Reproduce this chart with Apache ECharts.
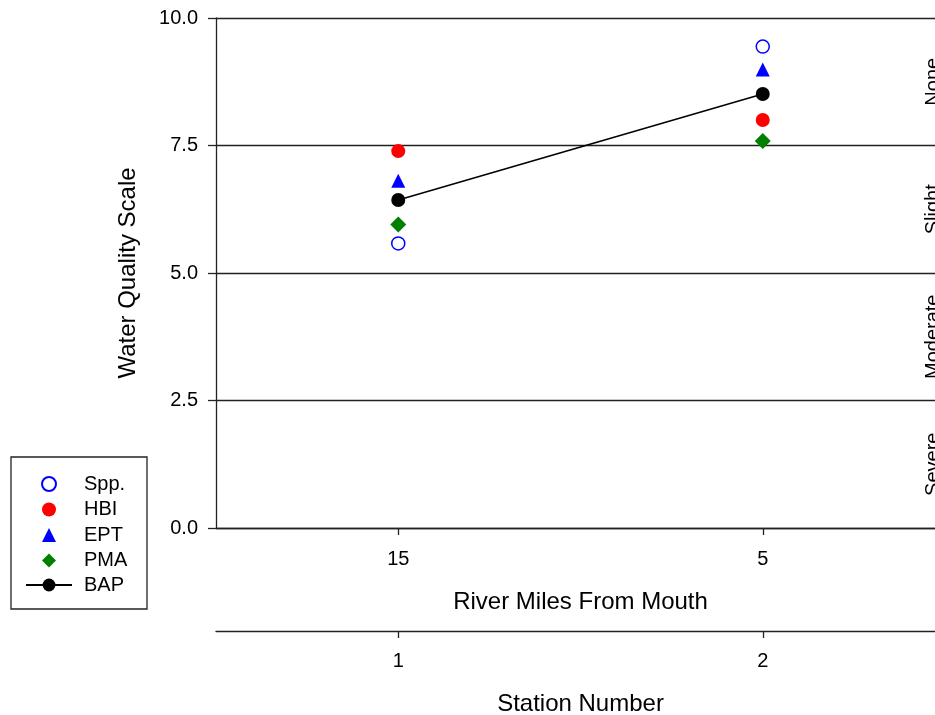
<!DOCTYPE html>
<html>
<head>
<meta charset="utf-8">
<script src="https://cdn.jsdelivr.net/npm/echarts@6/dist/echarts.min.js"></script>
<style>
html,body{margin:0;padding:0;background:#fff;}
#c{width:935px;height:715px;}
</style>
</head>
<body>
<div id="c"></div>
<script>
const riverMiles = ['15', '5'];
const stations = ['1', '2'];
const spp = [5.58, 9.44];
const hbi = [7.39, 8.0];
const ept = [6.81, 8.99];
const pma = [5.95, 7.59];
const bap = [6.43, 8.51];
const bandNames = ['Severe', 'Moderate', 'Slight', 'None'];
const bandCenters = [1.25, 3.75, 6.25, 8.75];
const xPositions = [0, 1];

const FONT = 'Liberation Sans, Arial, sans-serif';
const chart = echarts.init(document.getElementById('c'));
const axisLineStyle = { color: '#222', width: 1.3 };
// two stations, each in a band of width 1; the plot runs a little past the right edge of the page
const xMin = -0.5, xMax = 1.5;
const toPts = arr => arr.map((v, i) => [xPositions[i], v]);

function xAxisDef(labels, offset, title, labelMargin, nameGap) {
  return {
    type: 'value', min: xMin, max: xMax, position: 'bottom', offset: offset,
    splitLine: { show: false },
    axisLine: { show: true, onZero: false, lineStyle: axisLineStyle },
    axisTick: { show: true, customValues: xPositions, length: 7, lineStyle: axisLineStyle },
    axisLabel: { customValues: xPositions, fontSize: 20, color: '#000', margin: labelMargin,
      fontFamily: FONT, formatter: v => labels[Math.round(v)] },
    name: title, nameLocation: 'middle', nameGap: nameGap,
    nameTextStyle: { fontSize: 24, color: '#000', fontFamily: FONT }
  };
}

chart.setOption({
  animation: false,
  backgroundColor: '#fff',
  textStyle: { fontFamily: FONT },
  grid: { left: 216, top: 18, right: -10, height: 510, outerBoundsMode: 'none', containLabel: false },
  legend: [
    {
      orient: 'vertical', left: 41, top: 474, padding: 0,
      itemWidth: 14, itemHeight: 14, itemGap: 5.5,
      textStyle: { fontSize: 20, color: '#000', fontFamily: FONT, padding: [0, 0, 0, 23] },
      data: ['Spp.', 'HBI', 'EPT', 'PMA']
    },
    {
      orient: 'vertical', left: 25, top: 575, padding: 0,
      itemWidth: 46, itemHeight: 16,
      textStyle: { fontSize: 20, color: '#000', fontFamily: FONT, padding: [0, 0, 0, 7] },
      data: ['BAP']
    }
  ],
  xAxis: [
    xAxisDef(riverMiles, 0, 'River Miles From Mouth', 21, 62),
    xAxisDef(stations, 103, 'Station Number', 20, 61)
  ],
  yAxis: {
    type: 'value', min: 0, max: 10, interval: 2.5,
    axisLine: { show: true, onZero: false, lineStyle: axisLineStyle },
    axisTick: { show: true, length: 8, lineStyle: axisLineStyle },
    splitLine: { show: true, lineStyle: axisLineStyle },
    axisLabel: { fontSize: 20, color: '#000', margin: 18, fontFamily: FONT,
      formatter: v => v.toFixed(1) },
    name: 'Water Quality Scale', nameLocation: 'middle', nameGap: 76,
    nameTextStyle: { fontSize: 24, color: '#000', fontFamily: FONT }
  },
  series: [
    { name: 'Spp.', type: 'scatter', data: toPts(spp), symbol: 'circle', symbolSize: 13,
      itemStyle: { color: '#fff', borderColor: '#0000ff', borderWidth: 1.5, opacity: 1 } },
    { name: 'HBI', type: 'scatter', data: toPts(hbi), symbol: 'circle', symbolSize: 14,
      itemStyle: { color: '#ff0000', opacity: 1 } },
    { name: 'EPT', type: 'scatter', data: toPts(ept), symbol: 'triangle', symbolSize: 14,
      itemStyle: { color: '#0000ff', opacity: 1 } },
    { name: 'PMA', type: 'scatter', data: toPts(pma), symbol: 'diamond', symbolSize: 16,
      itemStyle: { color: '#008000', opacity: 1 } },
    { name: 'BAP', type: 'line', data: toPts(bap), symbol: 'circle', symbolSize: 14,
      showSymbol: true,
      lineStyle: { color: '#000', width: 1.5 },
      itemStyle: { color: '#000', opacity: 1 } }
  ]
});

// Band labels near the (clipped) right edge, placed through the y scale
const rightEdge = chart.convertToPixel({ xAxisIndex: 0 }, xMax);
chart.setOption({
  graphic: [
    { type: 'rect', shape: { x: 11, y: 457, width: 136, height: 152 },
      style: { fill: 'none', stroke: '#222', lineWidth: 1.3 } }
  ].concat(bandNames.map((t, i) => ({
    type: 'text',
    x: rightEdge - 12,
    y: chart.convertToPixel({ yAxisIndex: 0 }, bandCenters[i]),
    rotation: Math.PI / 2,
    style: { text: t, fontSize: 20, fill: '#000', fontFamily: FONT,
      align: 'center', verticalAlign: 'middle' }
  })))
});
</script>
</body>
</html>
